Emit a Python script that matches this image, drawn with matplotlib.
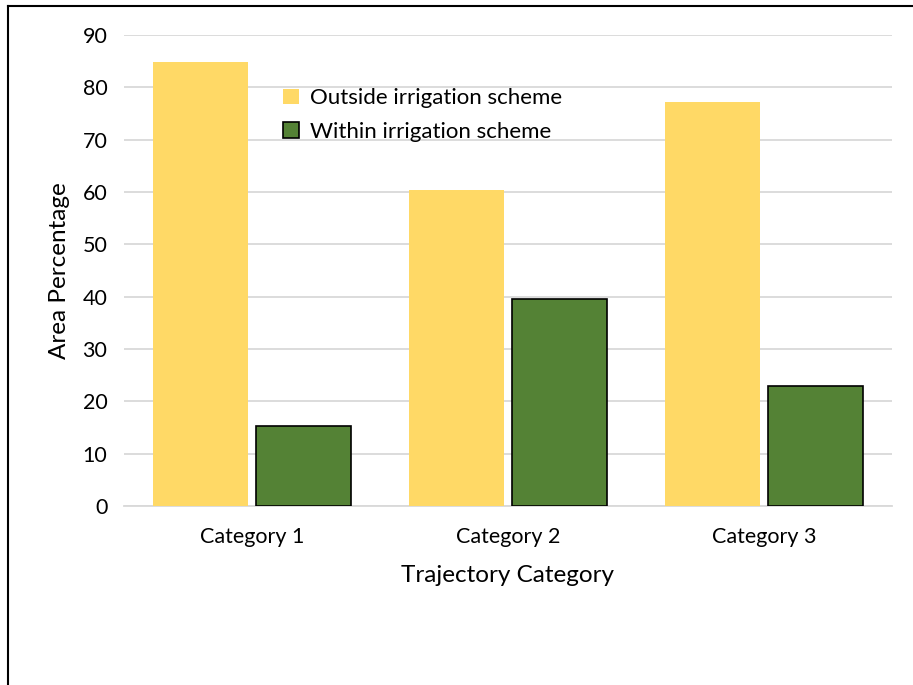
import matplotlib.pyplot as plt
import numpy as np
from matplotlib.lines import Line2D

plt.rcParams['font.family'] = ['Lato', 'DejaVu Sans']

categories = ['Category 1', 'Category 2', 'Category 3']
outside = [84.8, 60.4, 77.1]
within = [15.2, 39.6, 22.9]

x = np.arange(len(categories))
width = 0.372
offset = 0.2

fig = plt.figure(figsize=(9.13, 6.85), dpi=100)
ax = fig.add_axes([0.1358, 0.2613, 0.8412, 0.6877])

ax.bar(x - offset, outside, width, color='#FFD966', label='Outside irrigation scheme', zorder=3)
ax.bar(x + offset, within, width, color='#548235', edgecolor='black', linewidth=1.2,
       label='Within irrigation scheme', zorder=3)

ax.set_xlim(-0.5, 2.5)
ax.set_ylim(0, 90)
ax.set_yticks(range(0, 91, 10))
ax.set_xticks(x)
ax.set_xticklabels(categories)
ax.tick_params(axis='both', length=0, labelsize=15.5, colors='black')
ax.tick_params(axis='x', pad=15)
ax.tick_params(axis='y', pad=12)

ax.grid(axis='y', color='#D9D9D9', linewidth=1.3, zorder=0)
for side in ['top', 'right', 'left']:
    ax.spines[side].set_visible(False)
ax.spines['bottom'].set_color('#D9D9D9')
ax.spines['bottom'].set_linewidth(1.3)

ax.set_ylabel('Area Percentage', fontsize=17.5, labelpad=9)
ax.set_xlabel('Trajectory Category', fontsize=17.5, labelpad=13)

ax.legend(loc='upper left', bbox_to_anchor=(0.31, 0.871), bbox_transform=fig.transFigure,
          frameon=False, fontsize=16, handlelength=0.7, handleheight=0.7,
          handletextpad=0.5, labelspacing=0.6, borderaxespad=0, borderpad=0)

# outer frame around the figure
fig.add_artist(Line2D([0.0088, 0.0088], [0, 0.991], transform=fig.transFigure,
                      color='black', linewidth=1.5))
fig.add_artist(Line2D([0.0088, 1.0], [0.991, 0.991], transform=fig.transFigure,
                      color='black', linewidth=1.5))

fig.savefig('out.png', dpi=100)
